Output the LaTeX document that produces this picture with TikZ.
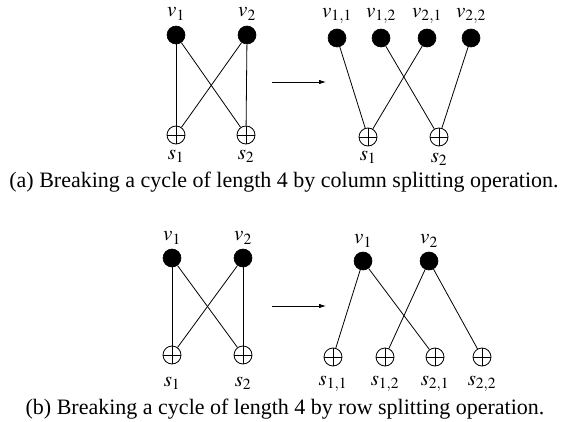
\documentclass[tikz,border=0pt]{standalone}
\usepackage{mathptmx}
\usepackage{fontspec}
\setmainfont{Liberation Serif}
\usetikzlibrary{arrows.meta}
\begin{document}
\begin{tikzpicture}[x=1pt,y=-1pt,
  vnode/.style={circle,fill=black,draw=black,line width=0.6pt,minimum size=18pt,inner sep=0pt},
  snode/.style={circle,draw=black,line width=0.8pt,minimum size=18pt,inner sep=0pt,
    path picture={\draw[line width=0.8pt] (path picture bounding box.north) -- (path picture bounding box.south)
      (path picture bounding box.west) -- (path picture bounding box.east);}},
  lbl/.style={inner sep=0pt,font=\fontsize{21}{24}\selectfont},
  link/.style={line width=0.8pt},
  arr/.style={line width=0.8pt,-{Latex[length=7pt,width=4.5pt]}},
  captext/.style={inner sep=0pt,font=\fontsize{22}{26}\selectfont}]
\useasboundingbox (0,0) rectangle (564,422);
% ---- (a) left
\node[vnode] (a1) at (176,35) {};
\node[vnode] (a2) at (247,35) {};
\node[snode] (as1) at (176,135) {};
\node[snode] (as2) at (246,135) {};
\node[lbl] (la1) at (176,14) {$v_1$};
\node[lbl] (la2) at (247,14) {$v_2$};
\node[lbl] (las1) at (176,156) {$s_1$};
\node[lbl] (las2) at (246,156) {$s_2$};
\draw[link] (a1) -- (as1);
\draw[link] (a1) -- (as2);
\draw[link] (a2) -- (as1);
\draw[link] (a2) -- (as2);
\coordinate (aA) at (272,82);
\coordinate (aB) at (326,82);
\draw[arr] (aA) -- (aB);
% ---- (a) right
\node[vnode] (b11) at (337,38) {};
\node[vnode] (b12) at (381,38) {};
\node[vnode] (b21) at (427,38) {};
\node[vnode] (b22) at (471,38) {};
\node[snode] (bs1) at (368,137) {};
\node[snode] (bs2) at (439,137) {};
\node[lbl] (lb11) at (337,16) {$v_{1,1}$};
\node[lbl] (lb12) at (381,16) {$v_{1,2}$};
\node[lbl] (lb21) at (427,16) {$v_{2,1}$};
\node[lbl] (lb22) at (471,16) {$v_{2,2}$};
\node[lbl] (lbs1) at (368,157) {$s_1$};
\node[lbl] (lbs2) at (439,159) {$s_2$};
\draw[link] (b11) -- (bs1);
\draw[link] (b21) -- (bs1);
\draw[link] (b12) -- (bs2);
\draw[link] (b22) -- (bs2);
\node[captext] (capa) at (284,182) {(a) Breaking a cycle of length 4 by column splitting operation.};
% ---- (b) left
\node[vnode] (c1) at (172,258) {};
\node[vnode] (c2) at (243,258) {};
\node[snode] (cs1) at (172,355) {};
\node[snode] (cs2) at (243,355) {};
\node[lbl] (lc1) at (172,238) {$v_1$};
\node[lbl] (lc2) at (243,238) {$v_2$};
\node[lbl] (lcs1) at (172,383) {$s_1$};
\node[lbl] (lcs2) at (243,383) {$s_2$};
\draw[link] (c1) -- (cs1);
\draw[link] (c1) -- (cs2);
\draw[link] (c2) -- (cs1);
\draw[link] (c2) -- (cs2);
\coordinate (cA) at (272,306);
\coordinate (cB) at (326,306);
\draw[arr] (cA) -- (cB);
% ---- (b) right
\node[vnode] (d1) at (363,261) {};
\node[vnode] (d2) at (429,261) {};
\node[snode] (ds11) at (333,357) {};
\node[snode] (ds12) at (385,357) {};
\node[snode] (ds21) at (435,357) {};
\node[snode] (ds22) at (482,357) {};
\node[lbl] (ld1) at (363,241) {$v_1$};
\node[lbl] (ld2) at (429,241) {$v_2$};
\node[lbl] (lds11) at (333,384) {$s_{1,1}$};
\node[lbl] (lds12) at (385,384) {$s_{1,2}$};
\node[lbl] (lds21) at (435,384) {$s_{2,1}$};
\node[lbl] (lds22) at (482,384) {$s_{2,2}$};
\draw[link] (d1) -- (ds11);
\draw[link] (d1) -- (ds21);
\draw[link] (d2) -- (ds12);
\draw[link] (d2) -- (ds22);
\node[captext] (capb) at (285,409) {(b) Breaking a cycle of length 4 by row splitting operation.};
\end{tikzpicture}
\end{document}
